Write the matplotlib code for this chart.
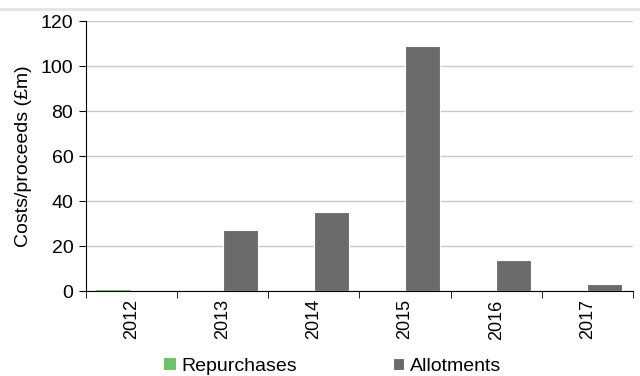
import matplotlib.pyplot as plt
import numpy as np
from matplotlib.lines import Line2D

# Share repurchases vs allotments by year
years = ['2012', '2013', '2014', '2015', '2016', '2017']
repurchases = [0.6, 0, 0, 0, 0, 0]
allotments = [0, 27, 35, 108.7, 14, 3.3]

plt.rcParams['font.family'] = ['Liberation Sans Narrow', 'Liberation Sans', 'DejaVu Sans']

fig = plt.figure(figsize=(6.4, 3.76), dpi=100)
ax = fig.add_axes([0.134, 0.226, 0.855, 0.718])

x = np.arange(len(years))
w = 0.385
ax.bar(x - w / 2, repurchases, w, color='#6cc36a', linewidth=0,
       label='Repurchases', zorder=3)
ax.bar(x + w / 2, allotments, w, color='#6b6b6b', edgecolor='white', linewidth=0.8,
       label='Allotments', zorder=3)

ax.set_xlim(-0.5, len(years) - 0.5)
ax.set_ylim(0, 120)
ax.set_yticks(range(0, 121, 20))
ax.yaxis.grid(True, color='#c8c8c8', linewidth=1)
ax.set_axisbelow(True)

# year labels in the middle, tick marks on the category edges
ax.set_xticks(x)
ax.set_xticklabels(years, rotation=90, fontsize=13)
ax.set_xticks(np.arange(-0.5, len(years)), minor=True)
ax.tick_params(axis='x', which='major', length=0, pad=6)
ax.tick_params(axis='x', which='minor', length=5, direction='out', color='black')
ax.tick_params(axis='y', length=5, direction='out', labelsize=14, pad=4)

for s in ['top', 'right']:
    ax.spines[s].set_visible(False)
ax.spines['left'].set_color('black')
ax.spines['bottom'].set_color('black')
ax.set_ylabel('Costs/proceeds (£m)', fontsize=14, labelpad=6)

fig.legend(loc='center', bbox_to_anchor=(0.52, 0.026), ncol=2, frameon=False,
           fontsize=14, handlelength=0.6, handleheight=0.6, handletextpad=0.3,
           columnspacing=4.9, borderpad=0)

# thin rule across the top
fig.add_artist(Line2D([0, 1], [0.977, 0.977], color='#e4e4e4', linewidth=2,
                      transform=fig.transFigure))

fig.savefig('out.png', dpi=100)
